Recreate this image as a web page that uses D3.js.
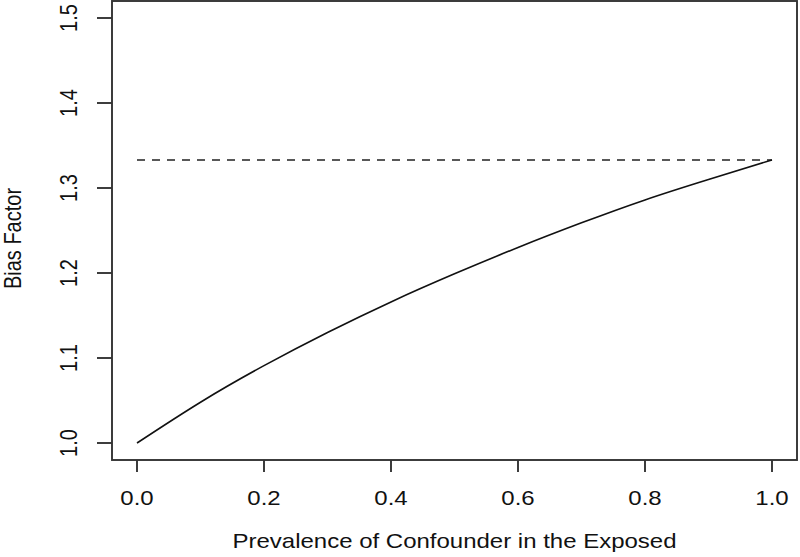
<!DOCTYPE html>
<meta charset="utf-8">
<script src="https://d3js.org/d3.v7.min.js"></script>
<style>
    body { margin: 0; background: #fff; }
    text { font-family: "Liberation Sans", Arial, sans-serif; fill: #111; }
</style>
<div id="vis"></div>
<script>
    // data
    var prevalence = [0.0, 0.1, 0.2, 0.3, 0.4, 0.5, 0.6, 0.7, 0.8, 0.9, 1.0];
    var biasFactor = [1.000, 1.048, 1.091, 1.130, 1.166, 1.199, 1.230, 1.259, 1.286, 1.310, 1.333];
    var maxBias = 1.333;
    var xTicks = [0.0, 0.2, 0.4, 0.6, 0.8, 1.0];
    var yTicks = [1.0, 1.1, 1.2, 1.3, 1.4, 1.5];
    var xLabel = "Prevalence of Confounder in the Exposed";
    var yLabel = "Bias Factor";

    // the original is a stretched R plot, so text gets a horizontal stretch too
    var sx = 1.2, fs = 20;
    var box = { lft: 112, rgt: 797, top: 1, btm: 460 };

    var svg = d3.select("#vis")
        .append("svg")
        .attr("width", 800)
        .attr("height", 557);

    var x = d3.scaleLinear()
        .domain([0, 1])
        .range([137, 772]);
    var y = d3.scaleLinear()
        .domain([1.0, 1.5])
        .range([443, 18]);

    // frame
    svg.append("rect")
        .attr("x", box.lft)
        .attr("y", box.top)
        .attr("width", box.rgt - box.lft)
        .attr("height", box.btm - box.top)
        .attr("fill", "none")
        .attr("stroke", "#333")
        .attr("stroke-width", 1.9);

    // x axis ticks + labels
    var xa = svg.append("g");
    xa.selectAll("line")
        .data(xTicks)
        .enter()
        .append("line")
        .attr("x1", function (d) { return x(d); })
        .attr("x2", function (d) { return x(d); })
        .attr("y1", box.btm)
        .attr("y2", box.btm + 12)
        .attr("stroke", "#333")
        .attr("stroke-width", 1.9);
    xa.selectAll("g.lab")
        .data(xTicks)
        .enter()
        .append("g")
        .attr("class", "lab")
        .attr("transform", function (d) { return "translate(" + x(d) + ",505) scale(" + sx + ",1)"; })
        .append("text")
        .attr("text-anchor", "middle")
        .style("font-size", fs + "px")
        .text(function (d) { return d3.format(".1f")(d); });

    // y axis ticks + rotated labels
    var ya = svg.append("g");
    ya.selectAll("line")
        .data(yTicks)
        .enter()
        .append("line")
        .attr("x1", box.lft)
        .attr("x2", box.lft - 15)
        .attr("y1", function (d) { return y(d); })
        .attr("y2", function (d) { return y(d); })
        .attr("stroke", "#333")
        .attr("stroke-width", 1.9);
    ya.selectAll("g.lab")
        .data(yTicks)
        .enter()
        .append("g")
        .attr("class", "lab")
        .attr("transform", function (d) { return "translate(77," + y(d) + ") scale(" + sx + ",1) rotate(-90)"; })
        .append("text")
        .attr("text-anchor", "middle")
        .style("font-size", fs + "px")
        .text(function (d) { return d3.format(".1f")(d); });

    // dashed max line
    svg.append("line")
        .attr("x1", x(0))
        .attr("x2", x(1))
        .attr("y1", y(maxBias))
        .attr("y2", y(maxBias))
        .attr("stroke", "#222")
        .attr("stroke-width", 1.5)
        .attr("stroke-dasharray", "8,7");

    // curve
    var line = d3.line()
        .x(function (d) { return x(d[0]); })
        .y(function (d) { return y(d[1]); })
        .curve(d3.curveNatural);
    svg.append("path")
        .datum(d3.zip(prevalence, biasFactor))
        .attr("d", line)
        .attr("fill", "none")
        .attr("stroke", "#111")
        .attr("stroke-width", 1.6);

    // axis titles
    svg.append("g")
        .attr("transform", "translate(" + ((box.lft + box.rgt) / 2) + ",548) scale(" + sx + ",1)")
        .append("text")
        .attr("text-anchor", "middle")
        .style("font-size", fs + "px")
        .text(xLabel);
    svg.append("g")
        .attr("transform", "translate(21," + ((box.top + box.btm) / 2 + 8) + ") scale(" + sx + ",1) rotate(-90)")
        .append("text")
        .attr("text-anchor", "middle")
        .style("font-size", fs + "px")
        .text(yLabel);
</script>
